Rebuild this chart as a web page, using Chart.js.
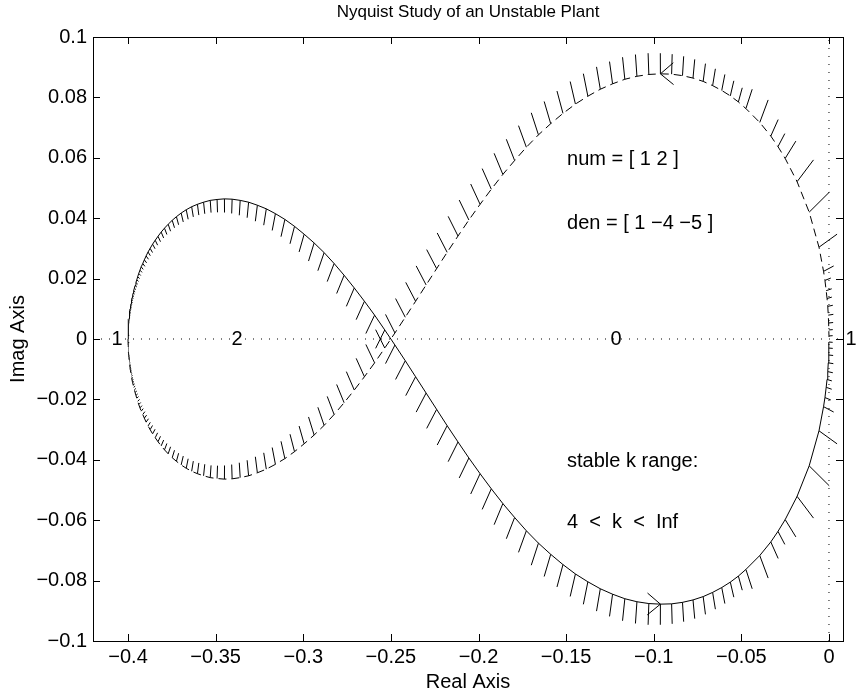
<!DOCTYPE html>
<html>
<head>
<meta charset="utf-8">
<title>Nyquist Study of an Unstable Plant</title>
<script src="https://cdn.jsdelivr.net/npm/chart.js@4.4.1/dist/chart.umd.min.js"></script>
<style>
  body { margin: 0; background: #fff; }
</style>
</head>
<body>
<canvas id="myChart" width="857" height="696"></canvas>
<script>
// Nyquist curve of (s+2)/(s^2-4s-5), positive frequency branch
const freqRe = [
  -0.4000, -0.4000, -0.4000, -0.4000, -0.4000, -0.4000, -0.4000, -0.4000, -0.4000, -0.4000,
  -0.4000, -0.3999, -0.3999, -0.3999, -0.3999, -0.3999, -0.3999, -0.3999, -0.3999, -0.3999,
  -0.3999, -0.3998, -0.3998, -0.3998, -0.3998, -0.3998, -0.3997, -0.3997, -0.3997, -0.3996,
  -0.3996, -0.3995, -0.3995, -0.3994, -0.3994, -0.3993, -0.3992, -0.3991, -0.3990, -0.3989,
  -0.3988, -0.3986, -0.3985, -0.3983, -0.3981, -0.3979, -0.3977, -0.3974, -0.3971, -0.3968,
  -0.3964, -0.3960, -0.3955, -0.3950, -0.3945, -0.3939, -0.3932, -0.3925, -0.3916, -0.3907,
  -0.3897, -0.3886, -0.3874, -0.3860, -0.3845, -0.3829, -0.3811, -0.3792, -0.3771, -0.3748,
  -0.3724, -0.3697, -0.3668, -0.3637, -0.3604, -0.3569, -0.3531, -0.3492, -0.3450, -0.3406,
  -0.3360, -0.3312, -0.3262, -0.3211, -0.3159, -0.3105, -0.3050, -0.2995, -0.2938, -0.2881,
  -0.2824, -0.2767, -0.2709, -0.2651, -0.2593, -0.2535, -0.2477, -0.2418, -0.2359, -0.2299,
  -0.2239, -0.2179, -0.2117, -0.2055, -0.1991, -0.1927, -0.1861, -0.1794, -0.1727, -0.1658,
  -0.1588, -0.1518, -0.1447, -0.1376, -0.1305, -0.1235, -0.1165, -0.1096, -0.1028, -0.0962,
  -0.0898, -0.0836, -0.0776, -0.0718, -0.0664, -0.0612, -0.0563, -0.0517, -0.0474, -0.0395,
  -0.0332, -0.0291, -0.0250, -0.0182, -0.0113, -0.0057, -0.0031, -0.0023, -0.0016, -0.0011,
  -0.0007, -0.0004, -0.0002, -0.0001, -0.0000
];
const freqIm = [
  0.0000, 0.0012, 0.0013, 0.0013, 0.0014, 0.0015, 0.0016, 0.0017, 0.0018, 0.0019,
  0.0020, 0.0021, 0.0022, 0.0023, 0.0024, 0.0026, 0.0027, 0.0029, 0.0030, 0.0032,
  0.0034, 0.0036, 0.0038, 0.0040, 0.0042, 0.0044, 0.0047, 0.0049, 0.0052, 0.0055,
  0.0058, 0.0061, 0.0065, 0.0068, 0.0072, 0.0076, 0.0080, 0.0085, 0.0089, 0.0094,
  0.0100, 0.0105, 0.0111, 0.0117, 0.0123, 0.0130, 0.0137, 0.0144, 0.0152, 0.0160,
  0.0168, 0.0177, 0.0187, 0.0196, 0.0206, 0.0217, 0.0228, 0.0239, 0.0250, 0.0262,
  0.0275, 0.0288, 0.0300, 0.0314, 0.0327, 0.0340, 0.0354, 0.0367, 0.0380, 0.0393,
  0.0405, 0.0417, 0.0428, 0.0438, 0.0446, 0.0453, 0.0459, 0.0462, 0.0464, 0.0463,
  0.0459, 0.0453, 0.0443, 0.0431, 0.0415, 0.0396, 0.0373, 0.0347, 0.0318, 0.0286,
  0.0250, 0.0211, 0.0169, 0.0125, 0.0079, 0.0030, -0.0020, -0.0072, -0.0125, -0.0179,
  -0.0233, -0.0287, -0.0341, -0.0394, -0.0446, -0.0496, -0.0545, -0.0591, -0.0635, -0.0676,
  -0.0713, -0.0747, -0.0778, -0.0804, -0.0827, -0.0845, -0.0860, -0.0870, -0.0876, -0.0878,
  -0.0877, -0.0872, -0.0864, -0.0853, -0.0839, -0.0823, -0.0805, -0.0785, -0.0763, -0.0717,
  -0.0672, -0.0637, -0.0598, -0.0521, -0.0420, -0.0304, -0.0224, -0.0194, -0.0160, -0.0134,
  -0.0108, -0.0079, -0.0053, -0.0030, -0.0010
];

// axis limits and ticks
const xMin = -0.42, xMax = 0.008, xStep = 0.05;
const yMin = -0.1, yMax = 0.1, yStep = 0.02;

// encirclement counts written on the real axis
const regionText = ["1", "2", "0", "1"];
const regionRe = [-0.4063, -0.3378, -0.1215, 0.0126];

// notes
const noteText = ["num = [ 1 2 ]", "den = [ 1 \u22124 \u22125 ]", "stable k range:", "4  <  k  <  Inf"];
const noteRe = [-0.1495, -0.1495, -0.1495, -0.1495];
const noteIm = [0.0596, 0.0384, -0.0404, -0.0609];

const titleText = "Nyquist Study of an Unstable Plant";

// direction arrow sits on this sample (and its mirror)
const arrowIndex = 119;

const FONT = "'Liberation Sans', Arial, sans-serif";
const hairScale = 1.05;

Chart.defaults.font.family = FONT;
Chart.defaults.font.size = 20;
Chart.defaults.color = "#000";

function fmt(v) {
  return String(Math.round(v * 100) / 100).replace("-", "\u2212");
}

const posBranch = freqRe.map((x, i) => ({ x: x, y: freqIm[i] }));
const negBranch = freqRe.map((x, i) => ({ x: x, y: -freqIm[i] }));

const nyquistExtras = {
  id: "nyquistExtras",
  afterDatasetsDraw(chart) {
    const { ctx, chartArea, scales } = chart;
    const xs = scales.x, ys = scales.y;
    const n = freqRe.length;

    ctx.save();
    ctx.beginPath();
    ctx.rect(chartArea.left, chartArea.top, chartArea.width, chartArea.height);
    ctx.clip();
    ctx.strokeStyle = "#000";
    ctx.lineWidth = 1;

    // hairs: normal to the curve (in data units) on the right of travel,
    // mirrored for the negative frequencies
    ctx.beginPath();
    for (let i = 1; i < n; i++) {
      const a = i - 1, b = Math.min(i + 1, n - 1);
      const tx = freqRe[b] - freqRe[a], ty = freqIm[b] - freqIm[a];
      const tl = Math.hypot(tx, ty) || 1;
      const dPrev = Math.hypot(freqRe[i] - freqRe[i - 1], freqIm[i] - freqIm[i - 1]);
      const dNext = i < n - 1 ? Math.hypot(freqRe[i + 1] - freqRe[i], freqIm[i + 1] - freqIm[i]) : dPrev;
      const len = (hairScale * (dPrev + dNext)) / 2;
      const hx = (ty / tl) * len, hy = (-tx / tl) * len;
      const x0 = xs.getPixelForValue(freqRe[i]);
      const x1 = xs.getPixelForValue(freqRe[i] + hx);
      ctx.moveTo(x0, ys.getPixelForValue(freqIm[i]));
      ctx.lineTo(x1, ys.getPixelForValue(freqIm[i] + hy));
      ctx.moveTo(x0, ys.getPixelForValue(-freqIm[i]));
      ctx.lineTo(x1, ys.getPixelForValue(-freqIm[i] - hy));
    }
    ctx.stroke();

    // arrow heads
    const k = arrowIndex;
    const ax = xs.getPixelForValue(freqRe[k]);
    const ay = ys.getPixelForValue(freqIm[k]);
    const by = ys.getPixelForValue(-freqIm[k]);
    let ux = xs.getPixelForValue(freqRe[k + 1]) - xs.getPixelForValue(freqRe[k - 1]);
    let uy = ys.getPixelForValue(freqIm[k + 1]) - ys.getPixelForValue(freqIm[k - 1]);
    const ul = Math.hypot(ux, uy);
    ux /= ul; uy /= ul;
    const L = 17, ang = (40 * Math.PI) / 180;
    function head(x, y, dx, dy) {
      for (const s of [-1, 1]) {
        const c = Math.cos(s * ang), sn = Math.sin(s * ang);
        const rx = dx * c - dy * sn, ry = dx * sn + dy * c;
        ctx.moveTo(x - rx * L, y - ry * L);
        ctx.lineTo(x, y);
      }
    }
    ctx.beginPath();
    head(ax, ay, ux, uy);
    head(ax, by, -ux, uy);
    ctx.stroke();
    ctx.restore();
  },
  afterDraw(chart) {
    const { ctx, chartArea, scales } = chart;
    const xs = scales.x, ys = scales.y;
    const { left, right, top, bottom } = chartArea;
    ctx.save();
    ctx.strokeStyle = "#000";
    ctx.lineWidth = 1;
    ctx.strokeRect(left + 0.5, top + 0.5, right - left, bottom - top);

    // inward ticks on all four sides
    const tk = 7;
    ctx.beginPath();
    xs.ticks.forEach((t) => {
      const X = Math.round(xs.getPixelForValue(t.value)) + 0.5;
      ctx.moveTo(X, bottom); ctx.lineTo(X, bottom - tk);
      ctx.moveTo(X, top); ctx.lineTo(X, top + tk);
    });
    ys.ticks.forEach((t) => {
      const Y = Math.round(ys.getPixelForValue(t.value)) + 0.5;
      ctx.moveTo(left, Y); ctx.lineTo(left + tk, Y);
      ctx.moveTo(right, Y); ctx.lineTo(right - tk, Y);
    });
    ctx.stroke();

    ctx.fillStyle = "#000";
    ctx.textBaseline = "middle";
    ctx.textAlign = "center";
    ctx.font = "17px " + FONT;
    ctx.fillText(titleText, (left + right) / 2, 12);

    ctx.font = "20px " + FONT;
    regionText.forEach((s, i) => {
      ctx.fillText(s, xs.getPixelForValue(regionRe[i]), ys.getPixelForValue(0));
    });
    ctx.textAlign = "left";
    noteText.forEach((s, i) => {
      ctx.fillText(s, xs.getPixelForValue(noteRe[i]), ys.getPixelForValue(noteIm[i]));
    });
    ctx.restore();
  },
};

const ctx = document.getElementById("myChart");

const chart = new Chart(ctx, {
  type: "scatter",
  data: {
    datasets: [
      {
        label: "real axis",
        data: [{ x: xMin, y: 0 }, { x: xMax, y: 0 }],
        showLine: true,
        borderColor: "#000",
        borderWidth: 1,
        borderDash: [1, 7],
        pointRadius: 0,
      },
      {
        label: "imag axis",
        data: [{ x: 0, y: yMin }, { x: 0, y: yMax }],
        showLine: true,
        borderColor: "#000",
        borderWidth: 1,
        borderDash: [1, 7],
        pointRadius: 0,
      },
      {
        label: "w > 0",
        data: posBranch,
        showLine: true,
        borderColor: "#000",
        borderWidth: 1,
        pointRadius: 0,
        tension: 0,
      },
      {
        label: "w < 0",
        data: negBranch,
        showLine: true,
        borderColor: "#000",
        borderWidth: 1,
        borderDash: [8, 5],
        pointRadius: 0,
        tension: 0,
      },
    ],
  },
  options: {
    responsive: false,
    animation: false,
    devicePixelRatio: 1,
    layout: { padding: { left: 0, right: 14, top: 37, bottom: 0 } },
    scales: {
      x: {
        type: "linear",
        min: xMin,
        max: xMax,
        afterFit: (s) => { s.height = 55; },
        grid: { display: false, drawTicks: false },
        border: { display: false },
        ticks: {
          stepSize: xStep,
          includeBounds: false,
          autoSkip: false,
          maxRotation: 0,
          padding: 4,
          callback: (v) => fmt(v),
        },
        title: { display: true, text: "Real Axis", padding: { top: 0, bottom: 2 } },
      },
      y: {
        type: "linear",
        min: yMin,
        max: yMax,
        afterFit: (s) => { s.width = 93; },
        grid: { display: false, drawTicks: false },
        border: { display: false },
        ticks: {
          stepSize: yStep,
          includeBounds: false,
          autoSkip: false,
          padding: 6,
          callback: (v) => fmt(v),
        },
        title: { display: true, text: "Imag Axis", padding: { top: 6, bottom: 0 } },
      },
    },
    plugins: {
      legend: { display: false },
      tooltip: { enabled: false },
      title: { display: false },
    },
  },
  plugins: [nyquistExtras],
});
</script>
</body>
</html>
